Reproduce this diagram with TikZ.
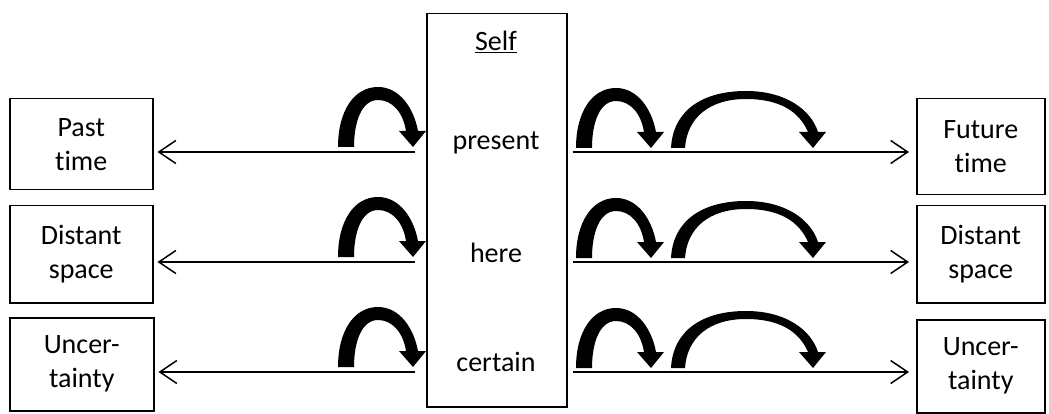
\documentclass[tikz,border=0pt]{standalone}
\usepackage{fontspec}
\setmainfont[Ligatures={NoCommon}]{Carlito}
\usetikzlibrary{arrows.meta}
\begin{document}
\begin{tikzpicture}[x=1pt,y=-1pt,
  box/.style={draw,line width=1.5pt,align=center,inner sep=0pt,font=\fontsize{28}{34}\selectfont},
  lbl/.style={font=\fontsize{28}{34}\selectfont,inner sep=0pt},
  harrow/.style={line width=1.5pt,-{Straight Barb[length=17pt,width=23pt,line width=1.5pt]}},
  smallcurve/.pic={\fill (0,0) .. controls (0,-36) and (16,-60) .. (40,-60)
     .. controls (62,-60) and (76,-38) .. (80,-16) -- (88,-16) -- (75,0) -- (61,-16) -- (68,-16)
     .. controls (65,-35) and (54,-47) .. (40,-47) .. controls (24,-47) and (16,-26) .. (16,0) -- cycle;},
  bigcurve/.pic={\fill (0,0) .. controls (2,-38) and (32,-57) .. (75,-57)
     .. controls (115,-57) and (140,-38) .. (147,-16) -- (155,-16) -- (142,0) -- (128,-16) -- (137,-16)
     .. controls (128,-37) and (108,-49) .. (75,-49) .. controls (38,-49) and (16,-30) .. (14,0) -- cycle;}]
\useasboundingbox (0,0) rectangle (1049,414);

% Self box
\node[draw,line width=1.5pt,minimum width=140pt,minimum height=393pt,anchor=north west,inner sep=0pt] (self) at (426,13) {};
\node[lbl] (selft) at (496,42) {\underline{Self}};
\node[lbl] (present) at (496,143) {present};
\node[lbl] (here) at (496,253) {here};
\node[lbl] (certain) at (496,362) {certain};

% left boxes
\node[box,minimum width=143pt,minimum height=91pt,anchor=north west] (past) at (9,98) {Past\\time};
\node[box,minimum width=143pt,minimum height=97pt,anchor=north west] (dl) at (9,205) {Distant\\space};
\node[box,minimum width=144pt,minimum height=93pt,anchor=north west] (ul) at (9,317) {Uncer-\\tainty};

% right boxes
\node[box,minimum width=128pt,minimum height=96pt,anchor=north west] (future) at (916,98) {Future\\time};
\node[box,minimum width=128pt,minimum height=97pt,anchor=north west] (dr) at (916,205) {Distant\\space};
\node[box,minimum width=128pt,minimum height=93pt,anchor=north west] (ur) at (916,319) {Uncer-\\tainty};

% arrow anchor coordinates
\coordinate (r1) at (426,152);
\coordinate (r2) at (426,262);
\coordinate (r3) at (426,372);

\draw[harrow,shorten <=11pt,shorten >=4pt] (r1) -- (r1 -| past.east);
\draw[harrow,shorten <=11pt,shorten >=4pt] (r2) -- (r2 -| dl.east);
\draw[harrow,shorten <=11pt,shorten >=4pt] (r3) -- (r3 -| ul.east);

\draw[harrow,shorten <=5pt,shorten >=7pt] (r1 -| self.east) -- (r1 -| future.west);
\draw[harrow,shorten <=5pt,shorten >=7pt] (r2 -| self.east) -- (r2 -| dr.west);
\draw[harrow,shorten <=5pt,shorten >=7pt] (r3 -| self.east) -- (r3 -| ur.west);

% curved arrows
\foreach \y in {152,262,372}{
  \pic at (338,\y-5) {smallcurve};
  \pic at (576,\y-4) {smallcurve};
  \pic at (671,\y-4) {bigcurve};
}
\end{tikzpicture}
\end{document}
